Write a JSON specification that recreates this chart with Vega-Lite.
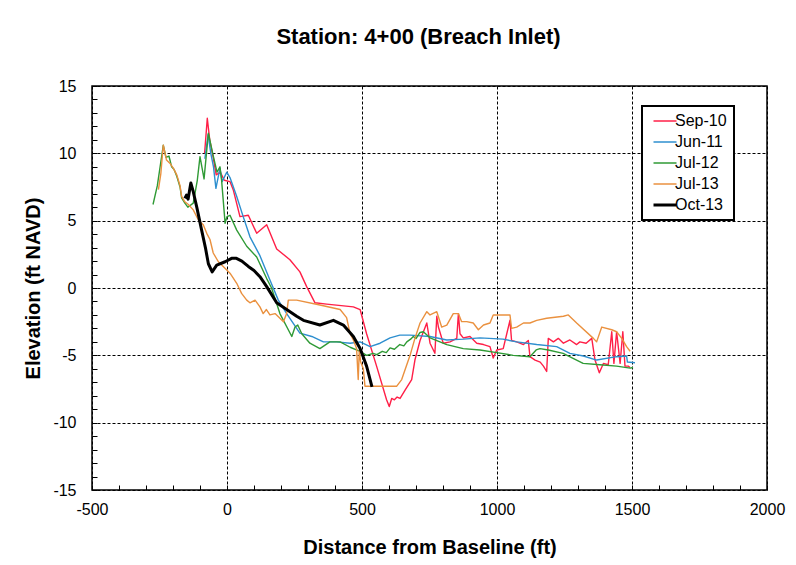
{
  "$schema": "https://vega.github.io/schema/vega-lite/v6.json",
  "width": 675,
  "height": 404,
  "autosize": {"type": "none"},
  "padding": {"left": 92, "top": 86, "right": 29, "bottom": 75},
  "background": "white",
  "title": {
    "text": "Station: 4+00 (Breach Inlet)",
    "font": "Liberation Sans",
    "fontSize": 22,
    "fontWeight": "bold",
    "color": "black",
    "anchor": "middle",
    "offset": 29,
    "dx": -11
  },
  "config": {
    "font": "Liberation Sans",
    "view": {"stroke": "black", "strokeWidth": 1.5},
    "legend": {"strokeColor": "black", "strokeWidth": 2, "fillColor": "white"}
  },
  "datasets": {
    "profiles": [
      {"series": "Sep-10", "distance": -83, "elevation": 10.0},
      {"series": "Sep-10", "distance": -73, "elevation": 12.6},
      {"series": "Sep-10", "distance": -64, "elevation": 11.0},
      {"series": "Sep-10", "distance": -52, "elevation": 9.8},
      {"series": "Sep-10", "distance": -40, "elevation": 8.4},
      {"series": "Sep-10", "distance": -25, "elevation": 8.6},
      {"series": "Sep-10", "distance": -10, "elevation": 8.0},
      {"series": "Sep-10", "distance": 11, "elevation": 7.9},
      {"series": "Sep-10", "distance": 23, "elevation": 7.3},
      {"series": "Sep-10", "distance": 48, "elevation": 5.3},
      {"series": "Sep-10", "distance": 79, "elevation": 5.4},
      {"series": "Sep-10", "distance": 110, "elevation": 4.06},
      {"series": "Sep-10", "distance": 147, "elevation": 4.7},
      {"series": "Sep-10", "distance": 184, "elevation": 2.9},
      {"series": "Sep-10", "distance": 233, "elevation": 2.1},
      {"series": "Sep-10", "distance": 270, "elevation": 1.2},
      {"series": "Sep-10", "distance": 295, "elevation": 0.1},
      {"series": "Sep-10", "distance": 326, "elevation": -1.1},
      {"series": "Sep-10", "distance": 369, "elevation": -1.2},
      {"series": "Sep-10", "distance": 468, "elevation": -1.4},
      {"series": "Sep-10", "distance": 493, "elevation": -1.6},
      {"series": "Sep-10", "distance": 517, "elevation": -3.4},
      {"series": "Sep-10", "distance": 554, "elevation": -5.8},
      {"series": "Sep-10", "distance": 591, "elevation": -8.3},
      {"series": "Sep-10", "distance": 601, "elevation": -8.8},
      {"series": "Sep-10", "distance": 610, "elevation": -8.2},
      {"series": "Sep-10", "distance": 620, "elevation": -8.3},
      {"series": "Sep-10", "distance": 630, "elevation": -8.1},
      {"series": "Sep-10", "distance": 641, "elevation": -8.2},
      {"series": "Sep-10", "distance": 659, "elevation": -7.6},
      {"series": "Sep-10", "distance": 684, "elevation": -6.8},
      {"series": "Sep-10", "distance": 696, "elevation": -5.35},
      {"series": "Sep-10", "distance": 715, "elevation": -3.9},
      {"series": "Sep-10", "distance": 740, "elevation": -2.6},
      {"series": "Sep-10", "distance": 752, "elevation": -4.1},
      {"series": "Sep-10", "distance": 770, "elevation": -4.85},
      {"series": "Sep-10", "distance": 777, "elevation": -2.1},
      {"series": "Sep-10", "distance": 783, "elevation": -2.9},
      {"series": "Sep-10", "distance": 801, "elevation": -4.1},
      {"series": "Sep-10", "distance": 826, "elevation": -4.0},
      {"series": "Sep-10", "distance": 851, "elevation": -3.74},
      {"series": "Sep-10", "distance": 857, "elevation": -1.9},
      {"series": "Sep-10", "distance": 863, "elevation": -3.4},
      {"series": "Sep-10", "distance": 875, "elevation": -3.7},
      {"series": "Sep-10", "distance": 900, "elevation": -3.6},
      {"series": "Sep-10", "distance": 925, "elevation": -4.1},
      {"series": "Sep-10", "distance": 950, "elevation": -4.2},
      {"series": "Sep-10", "distance": 974, "elevation": -4.35},
      {"series": "Sep-10", "distance": 986, "elevation": -5.2},
      {"series": "Sep-10", "distance": 999, "elevation": -4.6},
      {"series": "Sep-10", "distance": 1023, "elevation": -4.5},
      {"series": "Sep-10", "distance": 1048, "elevation": -2.4},
      {"series": "Sep-10", "distance": 1054, "elevation": -3.9},
      {"series": "Sep-10", "distance": 1073, "elevation": -4.0},
      {"series": "Sep-10", "distance": 1098, "elevation": -4.2},
      {"series": "Sep-10", "distance": 1116, "elevation": -3.9},
      {"series": "Sep-10", "distance": 1122, "elevation": -5.1},
      {"series": "Sep-10", "distance": 1141, "elevation": -5.35},
      {"series": "Sep-10", "distance": 1160, "elevation": -5.5},
      {"series": "Sep-10", "distance": 1172, "elevation": -5.8},
      {"series": "Sep-10", "distance": 1184, "elevation": -6.2},
      {"series": "Sep-10", "distance": 1190, "elevation": -3.74},
      {"series": "Sep-10", "distance": 1209, "elevation": -4.0},
      {"series": "Sep-10", "distance": 1227, "elevation": -3.74},
      {"series": "Sep-10", "distance": 1246, "elevation": -4.1},
      {"series": "Sep-10", "distance": 1270, "elevation": -3.86},
      {"series": "Sep-10", "distance": 1295, "elevation": -4.2},
      {"series": "Sep-10", "distance": 1307, "elevation": -4.0},
      {"series": "Sep-10", "distance": 1330, "elevation": -4.1},
      {"series": "Sep-10", "distance": 1351, "elevation": -3.74},
      {"series": "Sep-10", "distance": 1363, "elevation": -5.35},
      {"series": "Sep-10", "distance": 1379, "elevation": -6.3},
      {"series": "Sep-10", "distance": 1394, "elevation": -5.6},
      {"series": "Sep-10", "distance": 1412, "elevation": -5.7},
      {"series": "Sep-10", "distance": 1425, "elevation": -3.25},
      {"series": "Sep-10", "distance": 1433, "elevation": -5.6},
      {"series": "Sep-10", "distance": 1443, "elevation": -3.25},
      {"series": "Sep-10", "distance": 1456, "elevation": -5.6},
      {"series": "Sep-10", "distance": 1466, "elevation": -3.25},
      {"series": "Sep-10", "distance": 1474, "elevation": -5.8},
      {"series": "Sep-10", "distance": 1486, "elevation": -5.8},
      {"series": "Sep-10", "distance": 1493, "elevation": -5.9},

      {"series": "Jun-11", "distance": -82, "elevation": 9.6},
      {"series": "Jun-11", "distance": -70, "elevation": 11.4},
      {"series": "Jun-11", "distance": -60, "elevation": 10.0},
      {"series": "Jun-11", "distance": -50, "elevation": 9.0},
      {"series": "Jun-11", "distance": -41, "elevation": 7.4},
      {"series": "Jun-11", "distance": -26, "elevation": 8.9},
      {"series": "Jun-11", "distance": -18, "elevation": 7.9},
      {"series": "Jun-11", "distance": -1, "elevation": 8.6},
      {"series": "Jun-11", "distance": 11, "elevation": 8.2},
      {"series": "Jun-11", "distance": 36, "elevation": 6.8},
      {"series": "Jun-11", "distance": 60, "elevation": 5.3},
      {"series": "Jun-11", "distance": 85, "elevation": 3.8},
      {"series": "Jun-11", "distance": 122, "elevation": 2.4},
      {"series": "Jun-11", "distance": 159, "elevation": 0.6},
      {"series": "Jun-11", "distance": 190, "elevation": -0.9},
      {"series": "Jun-11", "distance": 221, "elevation": -1.9},
      {"series": "Jun-11", "distance": 270, "elevation": -3.35},
      {"series": "Jun-11", "distance": 314, "elevation": -3.6},
      {"series": "Jun-11", "distance": 357, "elevation": -4.0},
      {"series": "Jun-11", "distance": 406, "elevation": -4.0},
      {"series": "Jun-11", "distance": 456, "elevation": -4.1},
      {"series": "Jun-11", "distance": 493, "elevation": -4.0},
      {"series": "Jun-11", "distance": 530, "elevation": -4.35},
      {"series": "Jun-11", "distance": 567, "elevation": -4.1},
      {"series": "Jun-11", "distance": 604, "elevation": -3.7},
      {"series": "Jun-11", "distance": 640, "elevation": -3.5},
      {"series": "Jun-11", "distance": 678, "elevation": -3.5},
      {"series": "Jun-11", "distance": 752, "elevation": -3.6},
      {"series": "Jun-11", "distance": 814, "elevation": -3.86},
      {"series": "Jun-11", "distance": 875, "elevation": -3.8},
      {"series": "Jun-11", "distance": 937, "elevation": -3.7},
      {"series": "Jun-11", "distance": 1022, "elevation": -3.8},
      {"series": "Jun-11", "distance": 1073, "elevation": -4.0},
      {"series": "Jun-11", "distance": 1147, "elevation": -4.2},
      {"series": "Jun-11", "distance": 1221, "elevation": -4.35},
      {"series": "Jun-11", "distance": 1270, "elevation": -4.85},
      {"series": "Jun-11", "distance": 1320, "elevation": -5.05},
      {"series": "Jun-11", "distance": 1369, "elevation": -5.35},
      {"series": "Jun-11", "distance": 1443, "elevation": -5.1},
      {"series": "Jun-11", "distance": 1480, "elevation": -5.05},
      {"series": "Jun-11", "distance": 1483, "elevation": -5.5},
      {"series": "Jun-11", "distance": 1511, "elevation": -5.55},

      {"series": "Jul-12", "distance": -274, "elevation": 6.2},
      {"series": "Jul-12", "distance": -258, "elevation": 7.6},
      {"series": "Jul-12", "distance": -236, "elevation": 10.6},
      {"series": "Jul-12", "distance": -226, "elevation": 9.7},
      {"series": "Jul-12", "distance": -215, "elevation": 9.8},
      {"series": "Jul-12", "distance": -205, "elevation": 9.0},
      {"series": "Jul-12", "distance": -196, "elevation": 8.8},
      {"series": "Jul-12", "distance": -186, "elevation": 8.3},
      {"series": "Jul-12", "distance": -174, "elevation": 7.5},
      {"series": "Jul-12", "distance": -168, "elevation": 6.7},
      {"series": "Jul-12", "distance": -156, "elevation": 6.3},
      {"series": "Jul-12", "distance": -145, "elevation": 6.0},
      {"series": "Jul-12", "distance": -125, "elevation": 6.3},
      {"series": "Jul-12", "distance": -110, "elevation": 8.0},
      {"series": "Jul-12", "distance": -100, "elevation": 9.75},
      {"series": "Jul-12", "distance": -85, "elevation": 8.1},
      {"series": "Jul-12", "distance": -69, "elevation": 11.5},
      {"series": "Jul-12", "distance": -52, "elevation": 9.9},
      {"series": "Jul-12", "distance": -37, "elevation": 8.6},
      {"series": "Jul-12", "distance": -26, "elevation": 9.0},
      {"series": "Jul-12", "distance": -20, "elevation": 8.0},
      {"series": "Jul-12", "distance": -7, "elevation": 4.8},
      {"series": "Jul-12", "distance": 0, "elevation": 5.3},
      {"series": "Jul-12", "distance": 11, "elevation": 5.4},
      {"series": "Jul-12", "distance": 36, "elevation": 4.3},
      {"series": "Jul-12", "distance": 73, "elevation": 3.1},
      {"series": "Jul-12", "distance": 110, "elevation": 2.3},
      {"series": "Jul-12", "distance": 147, "elevation": 0.7},
      {"series": "Jul-12", "distance": 165, "elevation": 0.0},
      {"series": "Jul-12", "distance": 196, "elevation": -1.9},
      {"series": "Jul-12", "distance": 240, "elevation": -3.6},
      {"series": "Jul-12", "distance": 252, "elevation": -2.9},
      {"series": "Jul-12", "distance": 262, "elevation": -2.75},
      {"series": "Jul-12", "distance": 277, "elevation": -3.4},
      {"series": "Jul-12", "distance": 307, "elevation": -4.1},
      {"series": "Jul-12", "distance": 344, "elevation": -4.5},
      {"series": "Jul-12", "distance": 381, "elevation": -4.0},
      {"series": "Jul-12", "distance": 419, "elevation": -4.0},
      {"series": "Jul-12", "distance": 456, "elevation": -4.4},
      {"series": "Jul-12", "distance": 493, "elevation": -4.7},
      {"series": "Jul-12", "distance": 517, "elevation": -5.0},
      {"series": "Jul-12", "distance": 541, "elevation": -4.85},
      {"series": "Jul-12", "distance": 555, "elevation": -4.95},
      {"series": "Jul-12", "distance": 575, "elevation": -4.7},
      {"series": "Jul-12", "distance": 590, "elevation": -4.8},
      {"series": "Jul-12", "distance": 604, "elevation": -4.45},
      {"series": "Jul-12", "distance": 620, "elevation": -4.55},
      {"series": "Jul-12", "distance": 640, "elevation": -4.2},
      {"series": "Jul-12", "distance": 655, "elevation": -4.3},
      {"series": "Jul-12", "distance": 666, "elevation": -4.0},
      {"series": "Jul-12", "distance": 680, "elevation": -3.8},
      {"series": "Jul-12", "distance": 690, "elevation": -3.6},
      {"series": "Jul-12", "distance": 700, "elevation": -3.75},
      {"series": "Jul-12", "distance": 715, "elevation": -3.3},
      {"series": "Jul-12", "distance": 727, "elevation": -3.25},
      {"series": "Jul-12", "distance": 752, "elevation": -3.7},
      {"series": "Jul-12", "distance": 814, "elevation": -4.2},
      {"series": "Jul-12", "distance": 875, "elevation": -4.5},
      {"series": "Jul-12", "distance": 937, "elevation": -4.6},
      {"series": "Jul-12", "distance": 999, "elevation": -4.8},
      {"series": "Jul-12", "distance": 1060, "elevation": -5.0},
      {"series": "Jul-12", "distance": 1122, "elevation": -5.1},
      {"series": "Jul-12", "distance": 1145, "elevation": -4.6},
      {"series": "Jul-12", "distance": 1159, "elevation": -4.5},
      {"series": "Jul-12", "distance": 1190, "elevation": -4.6},
      {"series": "Jul-12", "distance": 1245, "elevation": -4.85},
      {"series": "Jul-12", "distance": 1280, "elevation": -5.2},
      {"series": "Jul-12", "distance": 1319, "elevation": -5.6},
      {"series": "Jul-12", "distance": 1381, "elevation": -5.7},
      {"series": "Jul-12", "distance": 1443, "elevation": -5.8},
      {"series": "Jul-12", "distance": 1493, "elevation": -5.95},
      {"series": "Jul-12", "distance": 1504, "elevation": -5.9},

      {"series": "Jul-13", "distance": -254, "elevation": 7.3},
      {"series": "Jul-13", "distance": -245, "elevation": 8.5},
      {"series": "Jul-13", "distance": -236, "elevation": 10.6},
      {"series": "Jul-13", "distance": -224, "elevation": 9.5},
      {"series": "Jul-13", "distance": -211, "elevation": 9.25},
      {"series": "Jul-13", "distance": -199, "elevation": 8.9},
      {"series": "Jul-13", "distance": -186, "elevation": 8.4},
      {"series": "Jul-13", "distance": -174, "elevation": 7.6},
      {"series": "Jul-13", "distance": -168, "elevation": 6.8},
      {"series": "Jul-13", "distance": -156, "elevation": 6.4},
      {"series": "Jul-13", "distance": -143, "elevation": 6.2},
      {"series": "Jul-13", "distance": -125, "elevation": 5.8},
      {"series": "Jul-13", "distance": -106, "elevation": 5.05},
      {"series": "Jul-13", "distance": -88, "elevation": 4.7},
      {"series": "Jul-13", "distance": -75, "elevation": 4.06},
      {"series": "Jul-13", "distance": -63, "elevation": 3.6},
      {"series": "Jul-13", "distance": -51, "elevation": 2.6},
      {"series": "Jul-13", "distance": -32, "elevation": 1.95},
      {"series": "Jul-13", "distance": -14, "elevation": 1.6},
      {"series": "Jul-13", "distance": 11, "elevation": 1.1},
      {"series": "Jul-13", "distance": 36, "elevation": 0.35},
      {"series": "Jul-13", "distance": 54, "elevation": -0.4},
      {"series": "Jul-13", "distance": 73, "elevation": -0.9},
      {"series": "Jul-13", "distance": 85, "elevation": -1.1},
      {"series": "Jul-13", "distance": 104, "elevation": -0.9},
      {"series": "Jul-13", "distance": 122, "elevation": -1.4},
      {"series": "Jul-13", "distance": 134, "elevation": -1.9},
      {"series": "Jul-13", "distance": 146, "elevation": -1.6},
      {"series": "Jul-13", "distance": 159, "elevation": -2.0},
      {"series": "Jul-13", "distance": 178, "elevation": -1.9},
      {"series": "Jul-13", "distance": 196, "elevation": -2.25},
      {"series": "Jul-13", "distance": 209, "elevation": -2.5},
      {"series": "Jul-13", "distance": 221, "elevation": -1.9},
      {"series": "Jul-13", "distance": 227, "elevation": -0.9},
      {"series": "Jul-13", "distance": 258, "elevation": -0.9},
      {"series": "Jul-13", "distance": 344, "elevation": -1.26},
      {"series": "Jul-13", "distance": 419, "elevation": -1.6},
      {"series": "Jul-13", "distance": 443, "elevation": -2.2},
      {"series": "Jul-13", "distance": 456, "elevation": -3.4},
      {"series": "Jul-13", "distance": 468, "elevation": -3.86},
      {"series": "Jul-13", "distance": 480, "elevation": -4.5},
      {"series": "Jul-13", "distance": 486, "elevation": -6.8},
      {"series": "Jul-13", "distance": 490, "elevation": -4.6},
      {"series": "Jul-13", "distance": 495, "elevation": -5.5},
      {"series": "Jul-13", "distance": 505, "elevation": -6.0},
      {"series": "Jul-13", "distance": 511, "elevation": -7.3},
      {"series": "Jul-13", "distance": 628, "elevation": -7.3},
      {"series": "Jul-13", "distance": 647, "elevation": -6.8},
      {"series": "Jul-13", "distance": 678, "elevation": -5.0},
      {"series": "Jul-13", "distance": 696, "elevation": -3.74},
      {"series": "Jul-13", "distance": 715, "elevation": -2.6},
      {"series": "Jul-13", "distance": 740, "elevation": -1.76},
      {"series": "Jul-13", "distance": 752, "elevation": -2.0},
      {"series": "Jul-13", "distance": 777, "elevation": -1.76},
      {"series": "Jul-13", "distance": 795, "elevation": -2.9},
      {"series": "Jul-13", "distance": 814, "elevation": -2.75},
      {"series": "Jul-13", "distance": 838, "elevation": -1.9},
      {"series": "Jul-13", "distance": 857, "elevation": -1.9},
      {"series": "Jul-13", "distance": 869, "elevation": -2.5},
      {"series": "Jul-13", "distance": 888, "elevation": -2.5},
      {"series": "Jul-13", "distance": 912, "elevation": -2.6},
      {"series": "Jul-13", "distance": 931, "elevation": -3.1},
      {"series": "Jul-13", "distance": 950, "elevation": -2.75},
      {"series": "Jul-13", "distance": 974, "elevation": -2.6},
      {"series": "Jul-13", "distance": 986, "elevation": -2.0},
      {"series": "Jul-13", "distance": 1048, "elevation": -2.0},
      {"series": "Jul-13", "distance": 1054, "elevation": -3.0},
      {"series": "Jul-13", "distance": 1073, "elevation": -2.9},
      {"series": "Jul-13", "distance": 1098, "elevation": -2.6},
      {"series": "Jul-13", "distance": 1122, "elevation": -2.6},
      {"series": "Jul-13", "distance": 1147, "elevation": -2.4},
      {"series": "Jul-13", "distance": 1184, "elevation": -2.25},
      {"series": "Jul-13", "distance": 1246, "elevation": -2.1},
      {"series": "Jul-13", "distance": 1264, "elevation": -2.0},
      {"series": "Jul-13", "distance": 1295, "elevation": -2.6},
      {"series": "Jul-13", "distance": 1357, "elevation": -3.74},
      {"series": "Jul-13", "distance": 1369, "elevation": -4.0},
      {"series": "Jul-13", "distance": 1388, "elevation": -2.9},
      {"series": "Jul-13", "distance": 1425, "elevation": -3.1},
      {"series": "Jul-13", "distance": 1443, "elevation": -3.25},
      {"series": "Jul-13", "distance": 1462, "elevation": -3.74},
      {"series": "Jul-13", "distance": 1480, "elevation": -4.35},
      {"series": "Jul-13", "distance": 1493, "elevation": -4.7},

      {"series": "Oct-13", "distance": -156, "elevation": 6.65},
      {"series": "Oct-13", "distance": -150, "elevation": 6.9},
      {"series": "Oct-13", "distance": -144, "elevation": 6.6},
      {"series": "Oct-13", "distance": -134, "elevation": 7.8},
      {"series": "Oct-13", "distance": -125, "elevation": 7.15},
      {"series": "Oct-13", "distance": -112, "elevation": 6.0},
      {"series": "Oct-13", "distance": -94, "elevation": 4.3},
      {"series": "Oct-13", "distance": -80, "elevation": 3.0},
      {"series": "Oct-13", "distance": -69, "elevation": 1.8},
      {"series": "Oct-13", "distance": -55, "elevation": 1.2},
      {"series": "Oct-13", "distance": -38, "elevation": 1.7},
      {"series": "Oct-13", "distance": -7, "elevation": 1.95},
      {"series": "Oct-13", "distance": 17, "elevation": 2.2},
      {"series": "Oct-13", "distance": 35, "elevation": 2.2},
      {"series": "Oct-13", "distance": 55, "elevation": 2.0},
      {"series": "Oct-13", "distance": 79, "elevation": 1.6},
      {"series": "Oct-13", "distance": 100, "elevation": 1.3},
      {"series": "Oct-13", "distance": 122, "elevation": 0.84},
      {"series": "Oct-13", "distance": 147, "elevation": 0.1},
      {"series": "Oct-13", "distance": 184, "elevation": -1.1},
      {"series": "Oct-13", "distance": 221, "elevation": -1.6},
      {"series": "Oct-13", "distance": 258, "elevation": -2.1},
      {"series": "Oct-13", "distance": 283, "elevation": -2.4},
      {"series": "Oct-13", "distance": 344, "elevation": -2.75},
      {"series": "Oct-13", "distance": 394, "elevation": -2.4},
      {"series": "Oct-13", "distance": 431, "elevation": -2.75},
      {"series": "Oct-13", "distance": 468, "elevation": -3.6},
      {"series": "Oct-13", "distance": 493, "elevation": -4.5},
      {"series": "Oct-13", "distance": 517, "elevation": -5.8},
      {"series": "Oct-13", "distance": 537, "elevation": -7.35}
    ]
  },
  "data": {"name": "profiles"},
  "mark": {"type": "line", "strokeJoin": "round", "clip": true},
  "encoding": {
    "x": {
      "field": "distance",
      "type": "quantitative",
      "scale": {"domain": [-500, 2000], "nice": false, "zero": false},
      "axis": {
        "title": "Distance from Baseline (ft)",
        "titleFont": "Liberation Sans",
        "titleFontSize": 20,
        "titleFontWeight": "bold",
        "titleColor": "black",
        "titlePadding": 20,
        "values": [-500, -400, -300, -200, -100, 0, 100, 200, 300, 400, 500, 600, 700, 800, 900, 1000, 1100, 1200, 1300, 1400, 1500, 1600, 1700, 1800, 1900, 2000],
        "labelExpr": "datum.value % 500 === 0 ? '' + datum.value : ''",
        "labelFont": "Liberation Sans",
        "labelFontSize": 16,
        "labelColor": "black",
        "labelOverlap": false,
        "labelFlush": false,
        "labelPadding": 16,
        "domain": false,
        "ticks": true,
        "tickSize": -5,
        "tickColor": "black",
        "tickWidth": 1,
        "grid": true,
        "gridColor": "black",
        "gridWidth": 1,
        "gridDash": [3, 2],
        "gridOpacity": {"condition": {"test": "datum.value % 500 === 0", "value": 1}, "value": 0}
      }
    },
    "y": {
      "field": "elevation",
      "type": "quantitative",
      "scale": {"domain": [-15, 15], "nice": false, "zero": false},
      "axis": {
        "title": "Elevation (ft NAVD)",
        "titleFont": "Liberation Sans",
        "titleFontSize": 20,
        "titleFontWeight": "bold",
        "titleColor": "black",
        "titlePadding": 9,
        "values": [-15, -14, -13, -12, -11, -10, -9, -8, -7, -6, -5, -4, -3, -2, -1, 0, 1, 2, 3, 4, 5, 6, 7, 8, 9, 10, 11, 12, 13, 14, 15],
        "labelExpr": "datum.value % 5 === 0 ? '' + datum.value : ''",
        "labelFont": "Liberation Sans",
        "labelFontSize": 16,
        "labelColor": "black",
        "labelOverlap": false,
        "labelFlush": false,
        "labelPadding": 21,
        "domain": false,
        "ticks": true,
        "tickSize": -5,
        "tickColor": "black",
        "tickWidth": 1,
        "grid": true,
        "gridColor": "black",
        "gridWidth": 1,
        "gridDash": [3, 2],
        "gridOpacity": {"condition": {"test": "datum.value % 5 === 0", "value": 1}, "value": 0}
      }
    },
    "color": {
      "field": "series",
      "type": "nominal",
      "sort": null,
      "scale": {
        "domain": ["Sep-10", "Jun-11", "Jul-12", "Jul-13", "Oct-13"],
        "range": ["#ff1f47", "#2e8fcf", "#2f9a35", "#ea913f", "#000000"]
      },
      "legend": {
        "title": null,
        "orient": "none",
        "legendX": 550,
        "legendY": 20,
        "direction": "vertical",
        "padding": 7,
        "symbolType": "stroke",
        "symbolSize": 529,
        "symbolOffset": 8,
        "labelFont": "Liberation Sans",
        "labelFontSize": 16,
        "labelColor": "black",
        "labelOffset": 2,
        "labelLimit": 200,
        "rowPadding": 5,
        "encode": {
          "symbols": {
            "update": {
              "strokeWidth": {"signal": "datum.label === 'Oct-13' ? 3 : 1.5"}
            }
          }
        }
      }
    },
    "strokeWidth": {
      "condition": {"test": "datum.series === 'Oct-13'", "value": 3},
      "value": 1.4
    }
  }
}
